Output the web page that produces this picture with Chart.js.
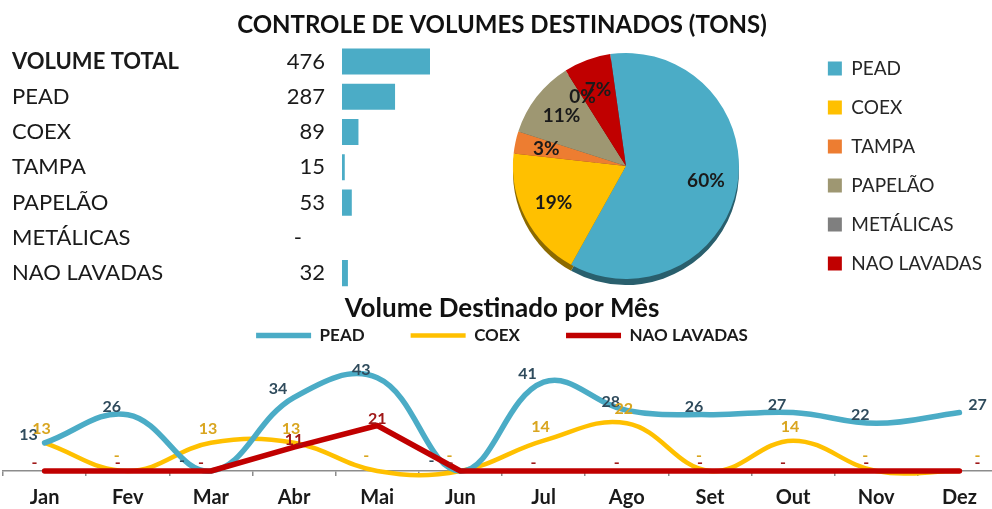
<!DOCTYPE html>
<html>
<head>
<meta charset="utf-8">
<script src="https://cdn.jsdelivr.net/npm/chart.js@4.4.0/dist/chart.umd.min.js"></script>
<style>
  html, body { margin: 0; padding: 0; background: #fff; overflow: hidden; width: 992px; height: 509px; }
  .box { position: absolute; }
</style>
</head>
<body>
<div class="box" style="left:0;top:0;width:992px;height:324px"><canvas id="barChart"></canvas></div>
<div class="box" style="left:420px;top:25px;width:572px;height:274px"><canvas id="pieChart"></canvas></div>
<div class="box" style="left:0;top:281px;width:1002px;height:240px"><canvas id="lineChart"></canvas></div>
<script>
var categories = ['VOLUME TOTAL', 'PEAD', 'COEX', 'TAMPA', 'PAPELÃO', 'METÁLICAS', 'NAO LAVADAS'];
var volumes = [476, 287, 89, 15, 53, 0, 32];

var pieLabels = ['PEAD', 'COEX', 'TAMPA', 'PAPELÃO', 'METÁLICAS', 'NAO LAVADAS'];
var pieValues = [287, 89, 15, 53, 0, 32];
var pieColors = ['#4bacc6', '#ffc000', '#ed7d31', '#9e9772', '#7f7f7f', '#c00000'];

var months = ['Jan', 'Fev', 'Mar', 'Abr', 'Mai', 'Jun', 'Jul', 'Ago', 'Set', 'Out', 'Nov', 'Dez'];
var pead = [13, 26, 0, 34, 43, 0, 41, 28, 26, 27, 22, 27];
var coex = [13, 0, 13, 13, 0, 0, 14, 22, 0, 14, 0, 0];
var naoLavadas = [0, 0, 0, 11, 21, 0, 0, 0, 0, 0, 0, 0];

Chart.defaults.font.family = 'Lato, "Open Sans", sans-serif';
Chart.defaults.color = '#1a1a1a';

function shade(hex, f) {
  var n = parseInt(hex.slice(1), 16);
  var r = Math.round(((n >> 16) & 255) * f), g = Math.round(((n >> 8) & 255) * f), b = Math.round((n & 255) * f);
  return 'rgb(' + r + ',' + g + ',' + b + ')';
}

// numbers left of the bars
var barValues = {
  id: 'barValues',
  afterDatasetsDraw: function(chart) {
    var ctx = chart.ctx, left = chart.chartArea.left;
    ctx.save();
    ctx.font = '22px Lato';
    ctx.fillStyle = '#1a1a1a';
    ctx.textAlign = 'right';
    ctx.textBaseline = 'middle';
    chart.getDatasetMeta(0).data.forEach(function(bar, i) {
      var v = volumes[i];
      ctx.fillText(v === 0 ? '-' : String(v), v === 0 ? left - 40 : left - 17, bar.y);
    });
    ctx.restore();
  }
};

new Chart(document.getElementById('barChart'), {
  type: 'bar',
  data: {
    labels: categories,
    datasets: [{
      data: volumes,
      backgroundColor: '#4bacc6',
      barPercentage: 0.74,
      categoryPercentage: 1
    }]
  },
  options: {
    indexAxis: 'y',
    responsive: true,
    maintainAspectRatio: false,
    animation: false,
    layout: { padding: { left: 12 } },
    plugins: {
      legend: { display: false },
      tooltip: { enabled: false },
      title: {
        display: true,
        text: 'CONTROLE DE VOLUMES DESTINADOS (TONS)',
        color: '#111',
        font: { size: 24, weight: 'bold' },
        padding: { top: 11, bottom: 4 }
      },
      subtitle: {
        display: true,
        position: 'bottom',
        text: 'Volume Destinado por Mês',
        color: '#111',
        font: { size: 26, weight: 'bold' },
        padding: { top: 2, bottom: 0 }
      }
    },
    scales: {
      x: { display: false, min: 0, max: 3516 },
      y: {
        grid: { display: false },
        border: { display: false },
        ticks: {
          crossAlign: 'far',
          padding: 0,
          color: '#1a1a1a',
          font: function(c) { return { size: 22, weight: c.index === 0 ? 'bold' : 'normal' }; }
        },
        afterFit: function(scale) { scale.width = 330; }
      }
    }
  },
  plugins: [barValues]
});

// darker copy of each slice, shifted down, for the 3D rim
var pieRim = {
  id: 'pieRim',
  beforeDatasetsDraw: function(chart) {
    var ctx = chart.ctx;
    chart.getDatasetMeta(0).data.forEach(function(arc, i) {
      if (arc.endAngle - arc.startAngle <= 0) return;
      ctx.save();
      ctx.beginPath();
      ctx.moveTo(arc.x, arc.y + 6);
      ctx.arc(arc.x, arc.y + 6, arc.outerRadius, arc.startAngle, arc.endAngle);
      ctx.closePath();
      ctx.fillStyle = shade(pieColors[i], 0.55);
      ctx.fill();
      ctx.restore();
    });
  }
};

var piePct = {
  id: 'piePct',
  afterDatasetsDraw: function(chart) {
    var ctx = chart.ctx;
    var total = pieValues.reduce(function(a, b) { return a + b; }, 0);
    ctx.save();
    ctx.font = 'bold 19px Lato';
    ctx.fillStyle = '#1a1a1a';
    ctx.textAlign = 'center';
    ctx.textBaseline = 'middle';
    chart.getDatasetMeta(0).data.forEach(function(arc, i) {
      var mid = (arc.startAngle + arc.endAngle) / 2;
      var r = arc.outerRadius * 0.72;
      ctx.fillText(Math.round(pieValues[i] / total * 100) + '%', arc.x + Math.cos(mid) * r, arc.y + Math.sin(mid) * r);
    });
    ctx.restore();
  }
};

new Chart(document.getElementById('pieChart'), {
  type: 'pie',
  data: {
    labels: pieLabels,
    datasets: [{
      data: pieValues,
      backgroundColor: pieColors,
      borderWidth: 0,
      radius: 113
    }]
  },
  options: {
    responsive: true,
    maintainAspectRatio: false,
    animation: false,
    rotation: -8,
    layout: { padding: { left: 24, top: 8 } },
    plugins: {
      tooltip: { enabled: false },
      legend: {
        position: 'right',
        labels: {
          boxWidth: 14,
          boxHeight: 14,
          padding: 20,
          color: '#262626',
          font: { size: 19 }
        }
      }
    }
  },
  plugins: [pieRim, piePct]
});

// data labels: zero shows as "-"
var lineLabelStyle = [
  { color: '#2f4b5c', num: [-16, -8], dash: [-29, -10] },
  { color: '#d9a51f', num: [-3, -14], dash: [-11, -15] },
  { color: '#a01818', num: [0, -7], dash: [-10, -8] }
];

var lineLabels = {
  id: 'lineLabels',
  afterDatasetsDraw: function(chart) {
    var ctx = chart.ctx;
    ctx.save();
    ctx.font = 'bold 16px Lato';
    ctx.textAlign = 'center';
    ctx.textBaseline = 'middle';
    chart.data.datasets.forEach(function(ds, d) {
      var st = lineLabelStyle[d];
      ctx.fillStyle = st.color;
      chart.getDatasetMeta(d).data.forEach(function(pt, i) {
        var v = ds.data[i];
        var off = v === 0 ? st.dash : st.num;
        var dx = i === ds.data.length - 1 ? 18 : off[0];
        ctx.fillText(v === 0 ? '-' : String(v), pt.x + dx, pt.y + off[1]);
      });
    });
    ctx.restore();
  }
};

new Chart(document.getElementById('lineChart'), {
  type: 'line',
  data: {
    labels: months,
    datasets: [{
      label: 'PEAD',
      data: pead,
      borderColor: '#4bacc6',
      backgroundColor: '#4bacc6',
      borderWidth: 5.5,
      tension: 0.4,
      clip: false,
      order: 2
    }, {
      label: 'COEX',
      data: coex,
      borderColor: '#ffc000',
      backgroundColor: '#ffc000',
      borderWidth: 4.5,
      tension: 0.4,
      clip: false,
      order: 3
    }, {
      label: 'NAO LAVADAS',
      data: naoLavadas,
      borderColor: '#c00000',
      backgroundColor: '#c00000',
      borderWidth: 5.5,
      tension: 0,
      clip: false,
      order: 1
    }]
  },
  options: {
    responsive: true,
    maintainAspectRatio: false,
    animation: false,
    layout: { padding: { left: 3, right: 1, bottom: 1 } },
    elements: {
      point: { radius: 0, hoverRadius: 0 },
      line: { capBezierPoints: false, borderCapStyle: 'round', borderJoinStyle: 'round' }
    },
    plugins: {
      tooltip: { enabled: false },
      legend: {
        position: 'top',
        labels: {
          usePointStyle: true,
          pointStyle: 'line',
          pointStyleWidth: 55,
          padding: 46,
          color: '#1a1a1a',
          font: { size: 17, weight: 'bold' },
          sort: function(a, b) { return a.datasetIndex - b.datasetIndex; }
        }
      }
    },
    scales: {
      x: {
        offset: true,
        grid: { offset: true, drawOnChartArea: false, drawTicks: true, tickLength: 5, color: '#8c8c8c', lineWidth: 1.5 },
        border: { display: true, color: '#8c8c8c', width: 1.5 },
        ticks: { color: '#1a1a1a', font: { size: 20, weight: 'bold' }, padding: 10, maxRotation: 0, autoSkip: false }
      },
      y: { display: false, min: 0, max: 54 }
    }
  },
  plugins: [lineLabels]
});
</script>
</body>
</html>
